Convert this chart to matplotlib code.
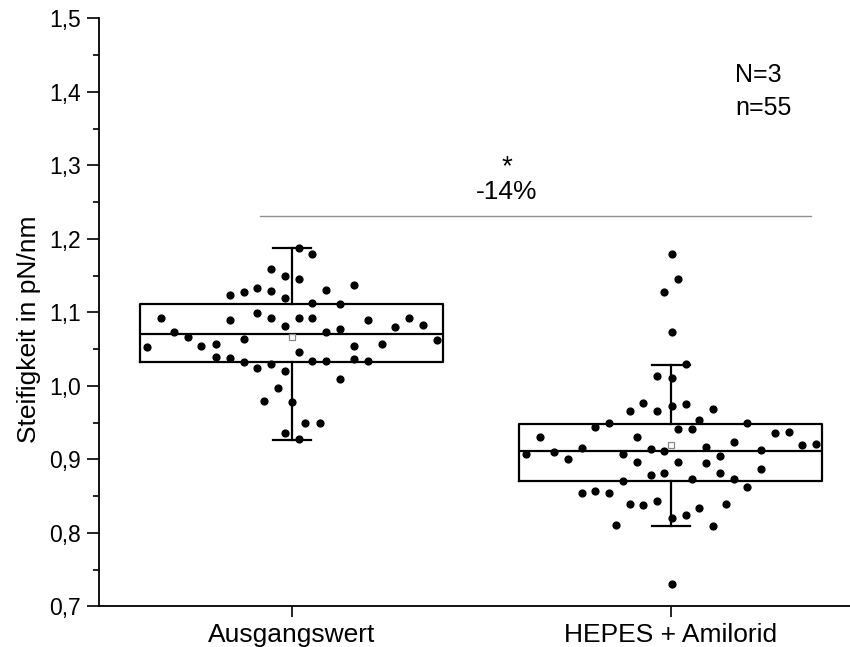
import matplotlib.pyplot as plt
from matplotlib.ticker import MultipleLocator, FuncFormatter

plt.rcParams['font.family'] = ['Liberation Sans', 'DejaVu Sans']

groups = ["Ausgangswert", "HEPES + Amilorid"]

# box statistics per group (quartiles, median, mean, whiskers)
q1 = [1.033, 0.871]
med = [1.071, 0.912]
q3 = [1.111, 0.948]
means = [1.066, 0.919]
whislo = [0.927, 0.810]
whishi = [1.187, 1.029]

# single measurements, group 1
vals_a = [1.187, 1.180, 1.159, 1.150, 1.146, 1.124, 1.128, 1.133, 1.129, 1.120,
          1.131, 1.137, 1.113, 1.112, 1.093, 1.090, 1.099, 1.093, 1.082, 1.093,
          1.093, 1.090, 1.092, 1.083, 1.080, 1.073, 1.066, 1.055, 1.057, 1.064,
          1.074, 1.077, 1.054, 1.057, 1.062, 1.053, 1.046, 1.039, 1.038, 1.033,
          1.034, 1.034, 1.036, 1.034, 1.024, 1.030, 1.020, 1.009, 0.997, 0.980,
          0.978, 0.950, 0.950, 0.936, 0.928]
jit_a = [0.018, 0.053, -0.054, -0.018, 0.018, -0.164, -0.127, -0.091, -0.054, -0.018,
         0.090, 0.164, 0.053, 0.127, -0.346, -0.164, -0.091, -0.054, -0.018, 0.018,
         0.053, 0.200, 0.310, 0.347, 0.272, -0.310, -0.274, -0.239, -0.200, -0.127,
         0.090, 0.127, 0.164, 0.237, 0.382, -0.382, 0.018, -0.200, -0.164, -0.127,
         0.053, 0.090, 0.164, 0.200, -0.091, -0.054, -0.018, 0.127, -0.037, -0.073,
         0.000, 0.035, 0.073, -0.018, 0.018]

# single measurements, group 2
vals_b = [1.179, 1.145, 1.128, 1.074, 1.030, 1.014, 1.011, 0.977, 0.966, 0.966,
          0.973, 0.975, 0.969, 0.954, 0.949, 0.949, 0.944, 0.942, 0.942, 0.930,
          0.930, 0.936, 0.937, 0.920, 0.921, 0.924, 0.917, 0.915, 0.914, 0.911,
          0.913, 0.908, 0.910, 0.908, 0.905, 0.901, 0.897, 0.897, 0.895, 0.882,
          0.879, 0.882, 0.887, 0.874, 0.874, 0.871, 0.862, 0.854, 0.857, 0.855,
          0.840, 0.838, 0.843, 0.834, 0.840, 0.820, 0.824, 0.811, 0.810, 0.731]
jit_b = [0.003, 0.019, -0.017, 0.003, 0.039, -0.035, 0.003, -0.072, -0.107, -0.035,
         0.003, 0.039, 0.111, 0.075, 0.202, -0.162, -0.199, 0.020, 0.055, -0.344,
         -0.089, 0.275, 0.311, 0.347, 0.383, 0.167, 0.093, -0.234, -0.053, -0.017,
         0.239, -0.381, -0.308, -0.126, 0.129, -0.272, -0.089, 0.020, 0.093, -0.017,
         -0.053, 0.129, 0.239, 0.055, 0.167, -0.126, 0.202, -0.234, -0.199, -0.162,
         -0.107, -0.072, -0.035, 0.074, 0.146, 0.003, 0.039, -0.144, 0.111, 0.003]

fig = plt.figure(figsize=(8.5, 6.47), dpi=100)
ax = fig.add_axes([0.116, 0.0626, 0.896, 0.909])

stats = []
for i in range(2):
    stats.append(dict(q1=q1[i], med=med[i], q3=q3[i], mean=means[i],
                      whislo=whislo[i], whishi=whishi[i], fliers=[]))

ax.bxp(stats, positions=[1, 2], widths=0.8, showmeans=True, showfliers=False,
       boxprops=dict(color='black', linewidth=1.6),
       medianprops=dict(color='black', linewidth=1.6),
       whiskerprops=dict(color='black', linewidth=1.6),
       capprops=dict(color='black', linewidth=1.6),
       capwidths=0.1,
       meanprops=dict(marker='s', markerfacecolor='white', markeredgecolor='#888888',
                      markersize=5, markeredgewidth=0.9),
       zorder=2)

ax.scatter([1 + j for j in jit_a], vals_a, s=24, color='black', zorder=3)
ax.scatter([2 + j for j in jit_b], vals_b, s=24, color='black', zorder=3)

# significance bar
ax.plot([0.916, 2.370], [1.231, 1.231], color='#909090', linewidth=1.0)
ax.text(1.568, 1.297, "*", ha='center', va='center', fontsize=20)
ax.text(1.568, 1.264, "-14%", ha='center', va='center', fontsize=19)

ax.text(2.17, 1.423, "N=3", ha='left', va='center', fontsize=18)
ax.text(2.17, 1.378, "n=55", ha='left', va='center', fontsize=18)

ax.set_xlim(0.49, 2.5)
ax.set_ylim(0.7, 1.5)
ax.set_xticks([1, 2])
ax.set_xticklabels(groups, fontsize=19)
ax.yaxis.set_major_locator(MultipleLocator(0.1))
ax.yaxis.set_minor_locator(MultipleLocator(0.05))
ax.yaxis.set_major_formatter(FuncFormatter(lambda v, p: f"{v:.1f}".replace('.', ',')))
ax.set_ylabel("Steifigkeit in pN/nm", fontsize=19)
ax.yaxis.set_label_coords(-0.076, 0.471)

ax.spines['top'].set_visible(False)
ax.spines['right'].set_visible(False)
ax.spines['left'].set_linewidth(1.3)
ax.spines['bottom'].set_linewidth(1.3)
ax.tick_params(axis='y', which='major', length=9, width=1.2, labelsize=16.5, pad=4)
ax.tick_params(axis='y', which='minor', length=4, width=1.2)
ax.tick_params(axis='x', length=8, width=1.2, pad=4)

fig.savefig("out.png", dpi=100)
